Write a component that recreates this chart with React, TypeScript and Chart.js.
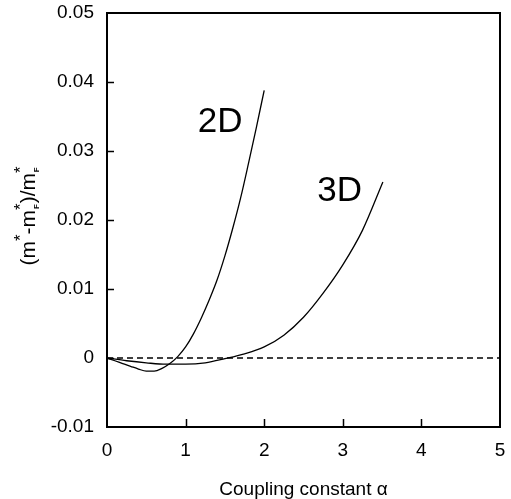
import React, { useEffect, useRef } from 'react';
import { Chart, registerables } from 'chart.js';

Chart.register(...registerables);

// ---- data ----
const alpha2D = [0, 0.1, 0.2, 0.3, 0.4, 0.5, 0.6, 0.7, 0.8, 0.9, 1.0, 1.1, 1.2, 1.3, 1.4, 1.5, 1.6, 1.7, 1.8, 1.9, 2.0];
const values2D = [0, -0.0004, -0.0008, -0.0012, -0.0016, -0.0019, -0.0019, -0.0015, -0.0008, 0.0002, 0.0016, 0.0035, 0.0058, 0.0084, 0.0113, 0.0148, 0.0188, 0.0232, 0.0282, 0.0334, 0.0388];

const alpha3D = [0, 0.25, 0.5, 0.75, 1.0, 1.25, 1.5, 1.75, 2.0, 2.25, 2.5, 2.75, 3.0, 3.25, 3.51];
const values3D = [0, -0.0004, -0.0007, -0.0009, -0.0009, -0.0007, -0.0001, 0.0006, 0.0016, 0.0033, 0.0059, 0.0094, 0.0135, 0.0185, 0.0255];

const zeroAlpha = [0, 5];
const zeroValues = [0, 0];

const xTicks = [0, 1, 2, 3, 4, 5];
const yTicks = [-0.01, 0, 0.01, 0.02, 0.03, 0.04, 0.05];

const curveLabels = ['2D', '3D'];
const labelAlpha = [1.44, 2.96];
const labelValue = [0.0341, 0.0242];

const xTitle = 'Coupling constant α';

const FONT = "'Liberation Sans', Arial, Helvetica, sans-serif";

const toPoints = (xs: number[], ys: number[]) => xs.map((x, i) => ({ x, y: ys[i] }));

const zeroPadding = (s: any) => {
  s.paddingTop = 0;
  s.paddingBottom = 0;
  s.paddingLeft = 0;
  s.paddingRight = 0;
};

const decor = {
  id: 'decor',
  afterDatasetsDraw(chart: any) {
    const { ctx, chartArea, scales } = chart;
    const { left, right, top, bottom } = chartArea;
    const x = scales.x;
    const y = scales.y;
    ctx.save();
    ctx.strokeStyle = '#000';
    ctx.fillStyle = '#000';
    // frame
    ctx.lineWidth = 2;
    ctx.strokeRect(left, top, right - left, bottom - top);
    // inward ticks
    ctx.lineWidth = 1.5;
    ctx.beginPath();
    yTicks.forEach((v) => {
      if (v <= y.min || v >= y.max) return;
      const py = Math.round(y.getPixelForValue(v)) + 0.5;
      ctx.moveTo(left, py);
      ctx.lineTo(left + 7, py);
    });
    xTicks.forEach((v) => {
      if (v <= x.min || v >= x.max) return;
      const px = Math.round(x.getPixelForValue(v)) + 0.5;
      ctx.moveTo(px, bottom);
      ctx.lineTo(px, bottom - 8);
    });
    ctx.stroke();
    // curve labels
    ctx.font = `35px ${FONT}`;
    ctx.textAlign = 'center';
    ctx.textBaseline = 'middle';
    curveLabels.forEach((t, i) => {
      ctx.fillText(t, x.getPixelForValue(labelAlpha[i]), y.getPixelForValue(labelValue[i]));
    });
    // y axis title: (m*-m*_F)/m*_F
    const mainFont = `21px ${FONT}`;
    const supFont = `17px ${FONT}`;
    const subFont = `bold 8px ${FONT}`;
    type Seg = { t: string; kind: 'n' | 'sup'; sub?: string };
    const segs: Seg[] = [
      { t: '(m', kind: 'n' },
      { t: '*', kind: 'sup' },
      { t: '-m', kind: 'n' },
      { t: '*', kind: 'sup', sub: 'F' },
      { t: ')/m', kind: 'n' },
      { t: '*', kind: 'sup', sub: 'F' },
    ];
    const widths = segs.map((s) => {
      ctx.font = s.kind === 'n' ? mainFont : supFont;
      return ctx.measureText(s.t).width;
    });
    const total = widths.reduce((a, b) => a + b, 0);
    ctx.translate(35, (top + bottom) / 2 - 4);
    ctx.rotate(-Math.PI / 2);
    ctx.textAlign = 'left';
    ctx.textBaseline = 'alphabetic';
    let cx = -total / 2;
    segs.forEach((s, i) => {
      if (s.kind === 'n') {
        ctx.font = mainFont;
        ctx.fillText(s.t, cx, 0);
      } else {
        ctx.font = supFont;
        ctx.fillText(s.t, cx, -9);
        if (s.sub) {
          ctx.font = subFont;
          const sw = ctx.measureText(s.sub).width;
          ctx.fillText(s.sub, cx + (widths[i] - sw) / 2, 4);
        }
      }
      cx += widths[i];
    });
    ctx.restore();
  },
};

export default function App() {
  const ref = useRef<HTMLCanvasElement | null>(null);

  useEffect(() => {
    if (!ref.current) return;
    const tickFont = { family: FONT, size: 19 };
    const chart = new Chart(ref.current, {
      type: 'line',
      data: {
        datasets: [
          {
            label: '2D',
            data: toPoints(alpha2D, values2D),
            borderColor: '#000',
            borderWidth: 1.3,
            pointRadius: 0,
            cubicInterpolationMode: 'monotone',
            fill: false,
          },
          {
            label: '3D',
            data: toPoints(alpha3D, values3D),
            borderColor: '#000',
            borderWidth: 1.3,
            pointRadius: 0,
            cubicInterpolationMode: 'monotone',
            fill: false,
          },
          {
            label: 'zero',
            data: toPoints(zeroAlpha, zeroValues),
            borderColor: '#000',
            borderWidth: 1.6,
            borderDash: [6, 4],
            pointRadius: 0,
            fill: false,
          },
        ],
      },
      options: {
        animation: false,
        responsive: false,
        layout: { padding: { left: 0, top: 13, right: 11, bottom: 0 } },
        plugins: { legend: { display: false }, tooltip: { enabled: false } },
        scales: {
          x: {
            type: 'linear',
            position: 'bottom',
            min: 0,
            max: 5,
            afterBuildTicks: (s: any) => {
              s.ticks = xTicks.map((v) => ({ value: v }));
            },
            afterFit: (s: any) => {
              s.height = 72;
              zeroPadding(s);
            },
            grid: { display: false, drawTicks: false },
            border: { display: false },
            ticks: {
              color: '#000',
              font: tickFont,
              padding: 12,
              maxRotation: 0,
              autoSkip: false,
              callback: (v: any) => String(v),
            },
            title: {
              display: true,
              text: xTitle,
              color: '#000',
              font: { family: FONT, size: 19 },
              padding: { top: 0, bottom: -2 },
            },
          },
          y: {
            type: 'linear',
            min: -0.01,
            max: 0.05,
            afterBuildTicks: (s: any) => {
              s.ticks = yTicks.map((v) => ({ value: v }));
            },
            afterFit: (s: any) => {
              s.width = 107;
              zeroPadding(s);
            },
            grid: { display: false, drawTicks: false },
            border: { display: false },
            ticks: {
              color: '#000',
              font: tickFont,
              padding: 13,
              autoSkip: false,
              callback: (v: any) => String(v),
            },
          },
        },
      },
      plugins: [decor],
    } as any);
    return () => chart.destroy();
  }, []);

  return (
    <div style={{ position: 'fixed', left: 0, top: 0, width: 511, height: 499, background: '#fff' }}>
      <canvas ref={ref} width={511} height={499} style={{ width: 511, height: 499 }} />
    </div>
  );
}
